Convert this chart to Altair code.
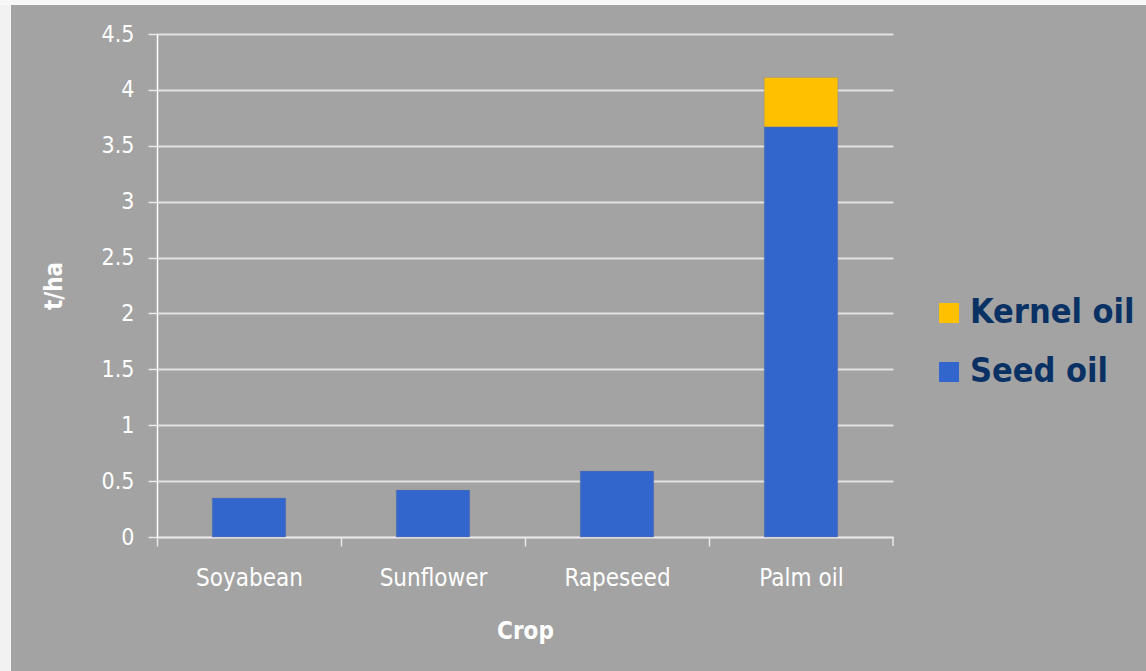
import altair as alt
import pandas as pd

crops = ["Soyabean", "Sunflower", "Rapeseed", "Palm oil"]
seed_oil = [0.35, 0.42, 0.59, 3.67]
kernel_oil = [0.0, 0.0, 0.0, 0.44]
series = ["Kernel oil", "Seed oil"]
colors = ["#ffc000", "#3366cc"]
y_ticks = [0, 0.5, 1, 1.5, 2, 2.5, 3, 3.5, 4, 4.5]

rows = []
for c, s, k in zip(crops, seed_oil, kernel_oil):
    rows.append({"Crop": c, "Type": "Seed oil", "Value": s, "ord": 0})
    if k > 0:
        rows.append({"Crop": c, "Type": "Kernel oil", "Value": k, "ord": 1})
df = pd.DataFrame(rows)

FONT = "DejaVu Sans Condensed, DejaVu Sans, sans-serif"
W, H = 736, 503
PL, PT, PR, PB = 157, 34, 253, 134
STEP = W / len(crops)

one = pd.DataFrame({"a": [0]})
left_strip = alt.Chart(one).mark_rect(color="#f2f2f2", clip=False).encode(
    x=alt.value(-PL), x2=alt.value(11 - PL),
    y=alt.value(-PT), y2=alt.value(H + PB)
)
top_strip = alt.Chart(one).mark_rect(color="#f7f7f7", clip=False).encode(
    x=alt.value(-PL), x2=alt.value(W + PR),
    y=alt.value(-PT), y2=alt.value(5 - PT)
)
end_tick = alt.Chart(one).mark_rule(color="#e8e8e8", strokeWidth=1.5, clip=False).encode(
    x=alt.value(W), y=alt.value(H), y2=alt.value(H + 9)
)

bars = alt.Chart(df).mark_bar(stroke="#7f7f7f", strokeWidth=0.6, strokeOpacity=0.5).encode(
    x=alt.X("Crop:N", sort=crops,
            scale=alt.Scale(paddingInner=0.6, paddingOuter=0.3),
            axis=alt.Axis(title="Crop", labelAngle=0,
                          tickOffset=-STEP / 2, labelOffset=STEP / 2,
                          labelFontSize=24, labelColor="white", labelFont=FONT,
                          labelPadding=20, tickSize=9, tickColor="#e8e8e8",
                          domainColor="#e8e8e8", domainWidth=1.5, tickWidth=1.5,
                          titleFontSize=24, titleFont=FONT, titleColor="white",
                          titleFontWeight="bold", titlePadding=29, grid=False)),
    y=alt.Y("Value:Q", stack="zero",
            scale=alt.Scale(domain=[0, 4.5], nice=False),
            axis=alt.Axis(title="t/ha", values=y_ticks, format="~f", labelFontSize=23,
                          labelColor="white", labelFont=FONT, labelPadding=14,
                          tickSize=9, tickColor="#e8e8e8", tickWidth=1.5,
                          domainColor="white", domainWidth=1.5,
                          grid=True, gridColor="#e2e2e2", gridWidth=2,
                          titleFontSize=24, titleFont=FONT, titleColor="white",
                          titleFontWeight="bold", titlePadding=35)),
    color=alt.Color("Type:N", scale=alt.Scale(domain=series, range=colors),
                    legend=alt.Legend(title=None, orient="none", legendX=775, legendY=262,
                                      symbolType="square", symbolSize=400,
                                      symbolStrokeWidth=0, labelFontSize=34,
                                      labelFont=FONT, labelFontWeight="bold",
                                      labelColor="#0a3163", rowPadding=25,
                                      labelOffset=4, labelLimit=400)),
    order=alt.Order("ord:Q", sort="ascending")
)

chart = alt.layer(bars, end_tick, left_strip, top_strip).properties(
    width=W, height=H,
    background="#a3a3a3",
    padding={"left": PL, "top": PT, "right": PR, "bottom": PB},
    autosize=alt.AutoSizeParams(type="none"),
).configure_view(stroke=None)

chart.save("out.html", embed_options={"renderer": "svg", "actions": False})
